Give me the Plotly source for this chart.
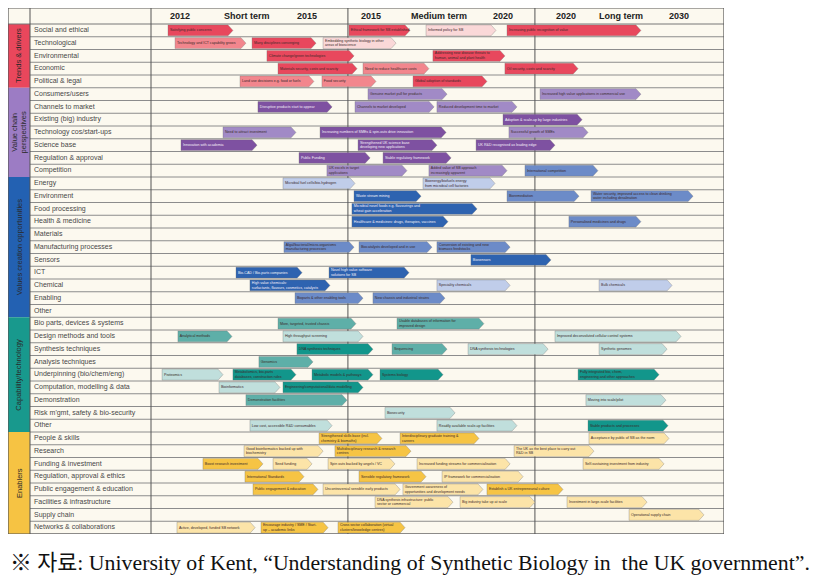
import plotly.graph_objects as go

# ---------------- data ----------------
ROW_LABELS = [
    "Social and ethical", "Technological", "Environmental", "Economic", "Political & legal",
    "Consumers/users", "Channels to market", "Existing (big) industry", "Technology cos/start-ups",
    "Science base", "Regulation & approval", "Competition",
    "Energy", "Environment", "Food processing", "Health & medicine", "Materials",
    "Manufacturing processes", "Sensors", "ICT", "Chemical", "Enabling", "Other",
    "Bio parts, devices & systems", "Design methods and tools", "Synthesis techniques",
    "Analysis techniques", "Underpinning (bio/chem/eng)", "Computation, modelling & data",
    "Demonstration", "Risk m'gmt, safety & bio-security", "Other",
    "People & skills", "Research", "Funding & investment", "Regulation, approval & ethics",
    "Public engagement & education", "Facilities & infrastructure", "Supply chain",
    "Networks & collaborations",
]
GROUP_NAMES = ["Trends & drivers", "Value chain<br>perspectives", "Values creation opportunities",
               "Capability/technology", "Enablers"]
GROUP_SIZES = [5, 7, 11, 9, 8]
GROUP_FAMILY = ["red", "purple", "blue", "teal", "yellow"]

PERIOD_EDGES = [0.0, 1.031, 2.010, 3.0]
HEADER_LABELS = [["2012", "Short term", "2015"],
                 ["2015", "Medium term", "2020"],
                 ["2020", "Long term", "2030"]]

BAR_ROW = [
    0, 0, 0, 0,
    1, 1, 1,
    2, 2,
    3, 3, 3,
    4, 4, 4,
    5, 5,
    6, 6, 6,
    7,
    8, 8, 8,
    9, 9, 9,
    10, 10,
    11, 11, 11,
    12, 12,
    13, 13, 13,
    14,
    15, 15,
    17, 17, 17,
    18,
    19, 19,
    20, 20, 20,
    21, 21,
    23, 23,
    24, 24, 24,
    25, 25, 25, 25,
    26,
    27, 27, 27, 27, 27,
    28, 28,
    29, 29,
    30,
    31, 31, 31,
    32, 32, 32,
    33, 33, 33,
    34, 34, 34, 34, 34,
    35, 35, 35,
    36, 36, 36, 36,
    37, 37, 37,
    38,
    39, 39, 39,
]
BAR_START = [
    0.089, 1.036, 1.440, 1.864,
    0.126, 0.529, 0.901,
    0.607, 1.476,
    0.665, 1.110, 1.853,
    0.466, 0.895, 1.372,
    1.136, 2.037,
    0.560, 1.068, 1.497,
    1.843,
    0.377, 0.885, 1.874,
    0.157, 1.084, 1.702,
    0.775, 1.215,
    0.921, 1.455, 1.958,
    0.691, 1.424,
    1.063, 1.864, 2.304,
    1.052,
    1.052, 2.188,
    0.696, 1.089, 1.497,
    1.675,
    0.445, 0.932,
    0.518, 1.497, 2.346,
    0.754, 1.162,
    0.665, 1.288,
    0.141, 0.691, 2.115,
    0.764, 1.262, 1.660, 2.346,
    0.565,
    0.058, 0.429, 0.843, 1.199, 2.236,
    0.356, 0.691,
    0.497, 2.277,
    1.225,
    0.518, 1.497, 2.288,
    0.880, 1.304, 2.293,
    0.487, 0.963, 1.901,
    0.272, 0.639, 0.927, 1.393, 2.262,
    0.492, 1.089, 1.524,
    0.534, 0.901, 1.319, 1.759,
    1.173, 1.618, 2.178,
    2.503,
    0.136, 0.576, 0.979,
]
BAR_END = [
    0.429, 1.356, 1.806, 2.565,
    0.497, 0.864, 1.283,
    1.063, 1.853,
    1.079, 1.455, 2.236,
    0.853, 1.178, 1.759,
    1.550, 2.565,
    0.948, 1.482, 1.916,
    2.257,
    0.759, 1.545, 2.288,
    0.555, 1.497, 2.115,
    1.147, 1.571,
    1.340, 1.864, 2.340,
    1.068, 1.801,
    1.414, 2.241, 2.838,
    1.707,
    1.555, 2.565,
    1.063, 1.471, 1.880,
    2.094,
    0.791, 1.351,
    0.937, 1.880, 2.728,
    1.110, 1.539,
    1.073, 1.743,
    0.424, 1.110, 2.775,
    1.162, 1.550, 2.079, 2.702,
    0.848,
    0.377, 0.759, 1.162, 1.529, 2.660,
    0.675, 1.110,
    1.026, 2.696,
    1.592,
    0.948, 1.916, 2.707,
    1.209, 1.717, 2.712,
    0.901, 1.361, 2.319,
    0.586, 0.843, 1.277, 1.880, 2.686,
    0.801, 1.440, 1.948,
    0.874, 1.304, 1.738, 2.157,
    1.581, 2.010, 2.597,
    2.895,
    0.545, 0.927, 1.330,
]
BAR_TEXT = [
    "Satisfying public concerns", "Ethical framework for SB established", "Informed policy for SB",
    "Increasing public recognition of value",
    "Technology and ICT capability grows", "Many disciplines converging",
    "Embedding synthetic biology in other<br>areas of bioscience",
    "Climate change/green technologies",
    "Addressing new disease threats to<br>human, animal and plant health",
    "Materials security, costs and scarcity", "Need to reduce healthcare costs",
    "Oil security, costs and scarcity",
    "Land use decisions e.g. food or fuels", "Food security", "Global adoption of standards",
    "Genuine market pull for products", "Increased high value applications in commercial use",
    "Disruptive products start to appear", "Channels to market developed",
    "Reduced development time to market",
    "Adoption & scale-up by large industries",
    "Need to attract investment", "Increasing numbers of SMEs & spin-outs drive innovation",
    "Successful growth of SMEs",
    "Innovation with academia", "Strengthened UK science base<br>developing new applications",
    "UK R&D recognised as leading edge",
    "Public Funding", "Stable regulatory framework",
    "UK excels in target<br>applications", "Added value of SB approach<br>increasingly apparent",
    "International competition",
    "Microbial fuel cells/bio-hydrogen", "Bioenergy/biofuels energy<br>from microbial cell factories",
    "Waste stream mining", "Bioremediation",
    "Water security, improved access to clean drinking<br>water including desalination",
    "Microbial novel foods e.g. flavourings and<br>wheat gain acceleration",
    "Healthcare & medicines: drugs, therapies, vaccines", "Personalised medicines and drugs",
    "Algal/bacterial/micro-organisms<br>manufacturing processes", "Biocatalysts developed and in use",
    "Conversion of existing and new<br>biomass feedstocks",
    "Biosensors",
    "Bio-CAD / Bio-parts companies", "Novel high value software<br>solutions for SB",
    "High value chemicals:<br>surfactants, flavours, cosmetics, catalysts", "Speciality chemicals",
    "Bulk chemicals",
    "Bioparts & other enabling tools", "New chassis and industrial strains",
    "More, targeted, trusted chassis", "Usable databases of information for<br>improved design",
    "Analytical methods", "High throughput screening", "Improved deconvoluted cellular control systems",
    "DNA synthesis techniques", "Sequencing", "DNA synthesis technologies", "Synthetic genomes",
    "Genomics",
    "Proteomics", "Metabolomics, bio-parts<br>databases, construction rules",
    "Metabolic models & pathways", "Systems biology",
    "Fully integrated bio, chem,<br>engineering and other approaches",
    "Bioinformatics", "Engineering/computational/data modelling",
    "Demonstration facilities", "Moving into scale/pilot",
    "Biosecurity",
    "Low cost, accessible R&D consumables", "Readily available scale-up facilities",
    "Stable products and processes",
    "Strengthened skills base (incl.<br>chemistry & biomaths)",
    "Interdisciplinary graduate training &<br>careers", "Acceptance by public of SB as the norm",
    "Good bioinformatics backed up with<br>biochemistry",
    "Multidisciplinary research & research<br>centres",
    "The UK as the best place to carry out<br>R&D in SB",
    "Boost research investment", "Seed funding", "Spin outs backed by angels / VC",
    "Increased funding streams for commercialisation", "Self-sustaining investment from industry",
    "International Standards", "Sensible regulatory framework", "IP framework for commercialisation",
    "Public engagement & education", "Uncontroversial sensible early products",
    "Government awareness of<br>opportunities and development needs",
    "Establish a UK entrepreneurial culture",
    "DNA synthesis infrastructure: public<br>sector or commercial", "Big industry take up at scale",
    "Investment in large-scale facilities",
    "Operational supply chain",
    "Active, developed, funded SB network", "Encourage industry / SME / Start-<br>up – academic links",
    "Cross sector collaboration (virtual<br>clusters/knowledge centres)",
]
BAR_TONE = [
    "dark", "dark", "light", "dark",
    "mid", "dark", "light",
    "dark", "dark",
    "dark", "mid", "dark",
    "mid", "mid", "dark",
    "mid", "mid",
    "dark", "mid", "mid",
    "dark",
    "mid", "dark", "mid",
    "dark", "dark", "dark",
    "dark", "dark",
    "mid", "mid", "mid",
    "light", "light",
    "dark", "mid", "mid",
    "dark",
    "dark", "mid",
    "mid", "mid", "mid",
    "dark",
    "dark", "dark",
    "dark", "light", "light",
    "mid", "mid",
    "mid", "mid",
    "mid", "light", "light",
    "dark", "mid", "light", "light",
    "mid",
    "light", "dark", "dark", "dark", "dark",
    "light", "dark",
    "mid", "light",
    "light",
    "light", "light", "dark",
    "dark", "dark", "light",
    "light", "dark", "light",
    "dark", "light", "light", "light", "light",
    "dark", "dark", "light",
    "dark", "light", "light", "dark",
    "light", "light", "light",
    "light",
    "light", "dark", "dark",
]
FAMILY_OVERRIDE = {"International competition": "blue"}

# ---------------- styling ----------------
PALETTE = {
    "red": {"dark": "#E8485D", "mid": "#F2868D", "light": "#FAD8D8", "cat": "#E9475C"},
    "purple": {"dark": "#7E51A1", "mid": "#A18AC6", "light": "#CDBFE0", "cat": "#9C7CC4"},
    "blue": {"dark": "#2E63B0", "mid": "#6C8BC8", "light": "#C0CDEA", "cat": "#2361B2"},
    "teal": {"dark": "#12968B", "mid": "#5EAFA8", "light": "#C0DFDC", "cat": "#18998D"},
    "yellow": {"dark": "#F6C444", "mid": "#F8D06A", "light": "#FCE4A8", "cat": "#F6C343"},
}
CREAM = "#FCF9EF"
X_LEFT = -0.7487
X_CAT = -0.6335
HEADER_TOP = -1.755
FRACS = [[0.147, 0.488, 0.792], [0.124, 0.488, 0.829], [0.165, 0.455, 0.760]]

row_family = []
for fam, n in zip(GROUP_FAMILY, GROUP_SIZES):
    row_family += [fam] * n

fig = go.Figure()
shapes = []
annotations = []
n_rows = len(ROW_LABELS)
Y_BOTTOM = n_rows - 0.5

# background
shapes.append(dict(type="rect", x0=X_LEFT, x1=PERIOD_EDGES[-1], y0=HEADER_TOP, y1=Y_BOTTOM,
                   fillcolor=CREAM, line=dict(width=0), layer="below"))
# category column
start = 0
for name, n, fam in zip(GROUP_NAMES, GROUP_SIZES, GROUP_FAMILY):
    shapes.append(dict(type="rect", x0=X_LEFT, x1=X_CAT, y0=start - 0.5, y1=start + n - 0.5,
                       fillcolor=PALETTE[fam]["cat"], line=dict(width=0), layer="below"))
    annotations.append(dict(x=(X_LEFT + X_CAT) / 2, y=start + n / 2 - 0.5, text=name,
                            textangle=-90, showarrow=False, xref="x", yref="y",
                            font=dict(size=7.5, color="#2a2a2a", family="Liberation Sans"),
                            align="center"))
    start += n
# row separators
for k in range(n_rows):
    shapes.append(dict(type="line", x0=X_CAT, x1=PERIOD_EDGES[-1], y0=k + 0.5, y1=k + 0.5,
                       line=dict(color="#8c8c8c", width=1), layer="below"))
shapes.append(dict(type="line", x0=X_LEFT, x1=PERIOD_EDGES[-1], y0=-0.5, y1=-0.5,
                   line=dict(color="#777", width=1), layer="below"))
# vertical lines
for xv in [X_CAT, 0.0] + PERIOD_EDGES[1:-1]:
    shapes.append(dict(type="line", x0=xv, x1=xv, y0=HEADER_TOP, y1=Y_BOTTOM,
                       line=dict(color="#555", width=1), layer="below"))
# border
shapes.append(dict(type="rect", x0=X_LEFT, x1=PERIOD_EDGES[-1], y0=HEADER_TOP, y1=Y_BOTTOM,
                   line=dict(color="#555", width=1.2), fillcolor="rgba(0,0,0,0)", layer="below"))

# header labels
for p, labels in enumerate(HEADER_LABELS):
    a, b = PERIOD_EDGES[p], PERIOD_EDGES[p + 1]
    for lab, f in zip(labels, FRACS[p]):
        annotations.append(dict(x=a + f * (b - a), y=(HEADER_TOP - 0.5) / 2, text="<b>%s</b>" % lab,
                                showarrow=False, xref="x", yref="y",
                                font=dict(size=9, color="#222", family="Liberation Sans")))

# row labels
fig.add_trace(go.Scatter(x=[X_CAT + 0.021] * n_rows, y=list(range(n_rows)), text=ROW_LABELS,
                         mode="text", textposition="middle right", hoverinfo="skip",
                         textfont=dict(size=7, color="#474747", family="Liberation Sans"),
                         showlegend=False))

# bars (arrow polygons)
TIP = 0.026
H = 0.43
groups = {}
for r, s, e, t, tone in zip(BAR_ROW, BAR_START, BAR_END, BAR_TEXT, BAR_TONE):
    fam = FAMILY_OVERRIDE.get(t, row_family[r])
    groups.setdefault((fam, tone), []).append((r, s, e, t))

txt_dark = {"x": [], "y": [], "t": []}
txt_light = {"x": [], "y": [], "t": []}
for (fam, tone), items in groups.items():
    xs, ys = [], []
    for r, s, e, t in items:
        xs += [s, e - TIP, e, e - TIP, s, s, None]
        ys += [r - H, r - H, r, r + H, r + H, r - H, None]
        dest = txt_light if (tone == "dark" and fam in ("purple", "blue")) else txt_dark
        dest["x"].append(s + 0.01)
        dest["y"].append(r)
        dest["t"].append(t)
    fig.add_trace(go.Scatter(x=xs, y=ys, mode="lines", fill="toself",
                             fillcolor=PALETTE[fam][tone],
                             line=dict(color="rgba(110,110,110,0.55)", width=0.6),
                             hoverinfo="skip", showlegend=False))

for d, col in [(txt_dark, "#3a2a2a"), (txt_light, "#f4f0f8")]:
    fig.add_trace(go.Scatter(x=d["x"], y=d["y"], text=d["t"], mode="text",
                             textposition="middle right", hoverinfo="skip", showlegend=False,
                             textfont=dict(size=3.6, color=col, family="Liberation Sans")))

# caption
annotations.append(dict(x=0, y=-0.055, xref="paper", yref="paper", xanchor="left", yanchor="middle",
                        text="※ 자료: University of Kent, “Understanding of Synthetic Biology in  the UK government”.",
                        showarrow=False,
                        font=dict(size=21.8, color="#111",
                                  family="Liberation Serif, Noto Sans CJK KR, serif")))

fig.update_layout(
    width=832, height=578,
    margin=dict(l=0, r=116, t=0, b=52),
    paper_bgcolor="white", plot_bgcolor="white",
    xaxis=dict(range=[X_LEFT, PERIOD_EDGES[-1]], visible=False, fixedrange=True),
    yaxis=dict(range=[Y_BOTTOM, HEADER_TOP], visible=False, fixedrange=True),
    shapes=shapes, annotations=annotations, showlegend=False,
)
fig.write_html("out.html")
